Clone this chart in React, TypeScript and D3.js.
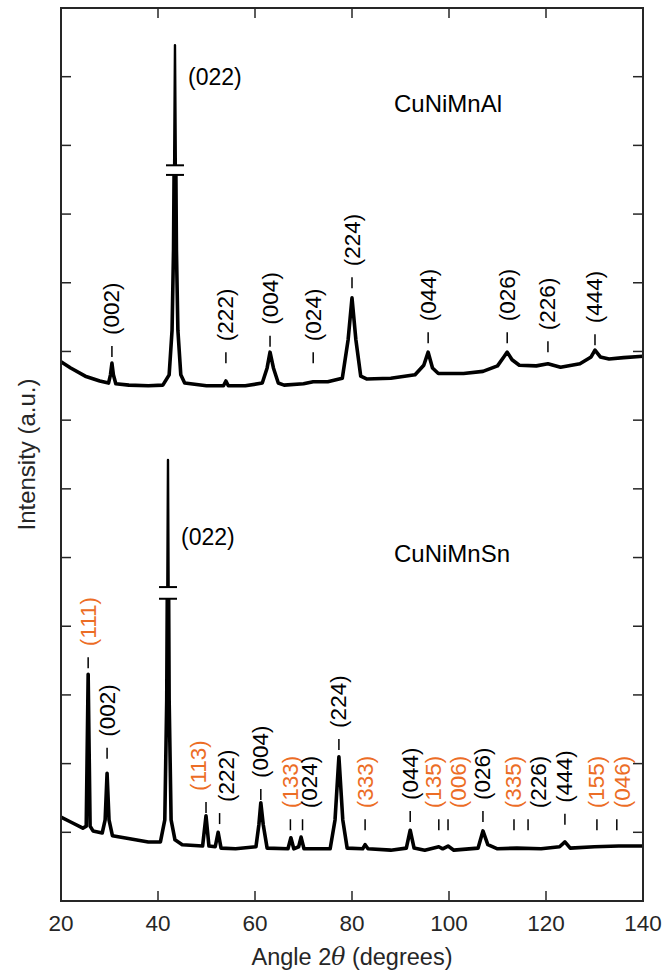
import React, { useEffect, useRef } from 'react';
import * as d3 from 'd3';

// CuNiMnAl pattern (2θ in degrees, intensity in a.u., offset trace)
const alAngle = [20, 22, 25, 28, 29.8, 30.2, 30.5, 30.8, 31.3, 34, 38, 41, 42.3, 42.9, 43.2, 43.5, 43.8, 44.1, 44.7, 45.5, 50, 53.5, 54.0, 54.5, 58, 61.5, 62.5, 63.1, 63.8, 64.8, 66, 70, 72, 75, 78, 79.2, 80.0, 80.8, 81.8, 83, 88, 93, 94.8, 95.7, 96.6, 97.8, 103, 107, 110, 111.3, 112.0, 113.0, 114.5, 118, 120.4, 123, 127, 129.3, 130.1, 131.2, 133, 136, 140];
const alInt = [7.85, 7.76, 7.64, 7.57, 7.54, 7.66, 7.83, 7.66, 7.53, 7.51, 7.5, 7.51, 7.66, 8.31, 9.48, 12.46, 9.48, 8.31, 7.66, 7.54, 7.5, 7.5, 7.57, 7.5, 7.5, 7.54, 7.76, 7.99, 7.76, 7.54, 7.51, 7.53, 7.56, 7.56, 7.61, 8.17, 8.78, 8.17, 7.64, 7.6, 7.61, 7.66, 7.8, 7.99, 7.76, 7.68, 7.68, 7.71, 7.79, 7.92, 7.99, 7.88, 7.8, 7.79, 7.82, 7.77, 7.82, 7.92, 8.02, 7.92, 7.89, 7.91, 7.93];

// CuNiMnSn pattern
const snAngle = [20, 22, 24.5, 25.2, 25.6, 26.0, 26.6, 28.5, 29.1, 29.5, 29.9, 30.6, 33, 38, 40.5, 41.4, 41.8, 42.06, 42.3, 42.7, 43.5, 45, 49.2, 49.9, 50.5, 51.8, 52.4, 53.0, 56, 60.2, 60.8, 61.2, 61.7, 62.5, 66.8, 67.4, 68.0, 69.0, 69.5, 70.1, 75.5, 76.5, 77.3, 78.1, 79, 82.2, 82.7, 83.3, 88, 91.2, 92.0, 92.8, 95, 97.9, 98.7, 99.8, 101, 106, 107, 108, 110, 114, 119, 122.8, 123.9, 125, 130, 135, 140];
const snInt = [1.22, 1.15, 1.06, 1.09, 3.3, 1.09, 1.02, 0.99, 1.18, 1.86, 1.18, 0.95, 0.92, 0.86, 0.86, 1.18, 2.93, 6.42, 2.93, 1.18, 0.89, 0.82, 0.8, 1.24, 0.8, 0.79, 1.0, 0.77, 0.76, 0.79, 1.11, 1.43, 1.11, 0.77, 0.76, 0.92, 0.76, 0.79, 0.93, 0.76, 0.76, 1.18, 2.1, 1.18, 0.77, 0.76, 0.82, 0.76, 0.74, 0.77, 1.03, 0.77, 0.74, 0.79, 0.76, 0.8, 0.74, 0.77, 1.02, 0.82, 0.76, 0.77, 0.76, 0.79, 0.86, 0.77, 0.79, 0.8, 0.8];

// reflection labels
const alHkl = ['(002)', '(222)', '(004)', '(024)', '(224)', '(044)', '(026)', '(226)', '(444)'];
const alHklAngle = [30.5, 54.0, 63.1, 72.0, 80.0, 95.7, 112.0, 120.4, 130.1];
const alHklLevel = [7.92, 7.83, 8.07, 7.83, 8.92, 8.12, 8.12, 7.99, 8.09];

const snHkl = ['(111)', '(002)', '(113)', '(222)', '(004)', '(133)', '(024)', '(224)', '(333)', '(044)', '(135)', '(006)', '(026)', '(335)', '(226)', '(444)', '(155)', '(046)'];
const snHklAngle = [25.6, 29.5, 49.9, 52.7, 61.2, 67.3, 69.8, 77.3, 82.7, 92.0, 97.9, 99.8, 107.0, 113.4, 116.3, 123.9, 130.5, 134.6];
const snHklLevel = [3.39, 2.07, 1.28, 1.12, 1.47, 1.03, 1.03, 2.2, 1.03, 1.15, 1.03, 1.03, 1.15, 1.03, 1.03, 1.11, 1.03, 1.03];
const snHklOrdered = [true, false, true, false, false, true, false, false, true, false, true, true, false, true, false, false, true, true];

// the strongest (022) peak of each trace is cut: [lower, upper] intensity of the gap
const alBreak = [10.57, 10.71];
const snBreak = [4.40, 4.57];
// level of the (022) caption next to the cut peak
const alMainLevel = 11.88;
const snMainLevel = 5.18;

const xTicks = [20, 40, 60, 80, 100, 120, 140];

const XrdChart = ({ chartId }: { chartId: string }) => {
  const ref = useRef<HTMLDivElement>(null);

  useEffect(() => {
    d3.select(ref.current).selectAll('svg').remove();

    const width = 664;
    const height = 971;
    const margin = { top: 8, right: 21, bottom: 70, left: 61 };
    const font = '"Liberation Sans", Arial, Helvetica, sans-serif';
    const orange = '#ec6d25';
    const axisColor = '#262626';

    const svg = d3
      .select(ref.current)
      .append('svg')
      .attr('id', chartId)
      .attr('width', width)
      .attr('height', height)
      .style('position', 'absolute')
      .style('left', 0)
      .style('top', 0)
      .style('background', '#fff');

    const x = d3.scaleLinear().domain([20, 140]).range([margin.left, width - margin.right]);
    const y = d3.scaleLinear().domain([0, 13]).range([height - margin.bottom, margin.top]);

    const line = d3
      .line<[number, number]>()
      .x((d) => x(d[0]))
      .y((d) => y(d[1]));

    const traces = [
      { id: 'al', a: alAngle, v: alInt, brk: alBreak, cap: alMainLevel },
      { id: 'sn', a: snAngle, v: snInt, brk: snBreak, cap: snMainLevel },
    ];

    const defs = svg.append('defs');

    traces.forEach((t) => {
      const pts = t.a.map((a, i) => [a, t.v[i]] as [number, number]);
      const yb = y(t.brk[0]);
      const yt = y(t.brk[1]);

      // thick trace below the cut, thin tip above it
      defs.append('clipPath').attr('id', `${t.id}-lo`).append('rect').attr('x', 0).attr('y', yb).attr('width', width).attr('height', height);
      defs.append('clipPath').attr('id', `${t.id}-hi`).append('rect').attr('x', 0).attr('y', 0).attr('width', width).attr('height', yt);

      svg
        .append('path')
        .attr('d', line(pts))
        .attr('clip-path', `url(#${t.id}-lo)`)
        .attr('fill', 'none')
        .attr('stroke', '#000')
        .attr('stroke-width', 3.6)
        .attr('stroke-linejoin', 'round');
      svg
        .append('path')
        .attr('d', line(pts))
        .attr('clip-path', `url(#${t.id}-hi)`)
        .attr('fill', 'none')
        .attr('stroke', '#000')
        .attr('stroke-width', 2.4)
        .attr('stroke-linejoin', 'round');

      const top = pts.reduce((m, p) => (p[1] > m[1] ? p : m));
      const px = x(top[0]);
      t.brk.forEach((b) => {
        svg
          .append('line')
          .attr('x1', px - 9)
          .attr('x2', px + 9)
          .attr('y1', y(b))
          .attr('y2', y(b))
          .attr('stroke', '#000')
          .attr('stroke-width', 2);
      });
      svg
        .append('text')
        .attr('x', px + 13)
        .attr('y', y(t.cap))
        .attr('font-family', font)
        .attr('font-size', 23)
        .text('(022)');
    });

    // hkl labels: short tick above the peak, rotated text above it
    const nudge: Record<string, number> = { '(113)': -8, '(222)': 7, '(024)': 7, '(135)': -5, '(006)': 10, '(226)': 10, '(046)': 6 };
    const drawLabels = (hkl: string[], ang: number[], lvl: number[], ordered: boolean[] | null, shift: boolean) => {
      hkl.forEach((h, i) => {
        const px = x(ang[i]);
        const py = y(lvl[i]);
        const color = ordered && ordered[i] ? orange : '#000';
        svg
          .append('line')
          .attr('x1', px)
          .attr('x2', px)
          .attr('y1', py)
          .attr('y2', py - 11)
          .attr('stroke', '#000')
          .attr('stroke-width', 1.5);
        const dx = shift ? nudge[h] || 0 : 0;
        svg
          .append('text')
          .attr('transform', `translate(${px + dx},${py - 22}) rotate(-90)`)
          .attr('dominant-baseline', 'central')
          .attr('font-family', font)
          .attr('font-size', 22.5)
          .attr('fill', color)
          .text(h);
      });
    };
    drawLabels(alHkl, alHklAngle, alHklLevel, null, false);
    drawLabels(snHkl, snHklAngle, snHklLevel, snHklOrdered, true);

    // sample names
    svg.append('text').attr('x', 394).attr('y', 112).attr('font-family', font).attr('font-size', 24).text('CuNiMnAl');
    svg.append('text').attr('x', 394).attr('y', 562).attr('font-family', font).attr('font-size', 24).text('CuNiMnSn');

    // frame with inward ticks on all four sides
    const x0 = margin.left;
    const x1 = width - margin.right;
    const y0 = height - margin.bottom;
    const y1 = margin.top;
    svg
      .append('rect')
      .attr('x', x0)
      .attr('y', y1)
      .attr('width', x1 - x0)
      .attr('height', y0 - y1)
      .attr('fill', 'none')
      .attr('stroke', axisColor)
      .attr('stroke-width', 2);

    const tl = 10;
    xTicks.slice(1, -1).forEach((t) => {
      svg.append('line').attr('x1', x(t)).attr('x2', x(t)).attr('y1', y0).attr('y2', y0 - tl).attr('stroke', axisColor).attr('stroke-width', 1.5);
      svg.append('line').attr('x1', x(t)).attr('x2', x(t)).attr('y1', y1).attr('y2', y1 + tl).attr('stroke', axisColor).attr('stroke-width', 1.5);
    });
    y.ticks(13).slice(1, -1).forEach((t) => {
      svg.append('line').attr('x1', x0).attr('x2', x0 + tl).attr('y1', y(t)).attr('y2', y(t)).attr('stroke', axisColor).attr('stroke-width', 1.5);
      svg.append('line').attr('x1', x1).attr('x2', x1 - tl).attr('y1', y(t)).attr('y2', y(t)).attr('stroke', axisColor).attr('stroke-width', 1.5);
    });

    svg
      .selectAll('.xlab')
      .data(xTicks)
      .enter()
      .append('text')
      .attr('x', (d) => x(d))
      .attr('y', y0 + 30)
      .attr('text-anchor', 'middle')
      .attr('font-family', font)
      .attr('font-size', 22.5)
      .attr('fill', axisColor)
      .text((d) => d);

    const xt = svg
      .append('text')
      .attr('x', (x0 + x1) / 2)
      .attr('y', y0 + 64)
      .attr('text-anchor', 'middle')
      .attr('font-family', font)
      .attr('font-size', 23.5)
      .attr('fill', axisColor);
    xt.append('tspan').text('Angle 2');
    xt.append('tspan').attr('font-family', '"DejaVu Serif", "Liberation Serif", serif').attr('font-style', 'italic').text('θ');
    xt.append('tspan').text(' (degrees)');

    svg
      .append('text')
      .attr('transform', `translate(35,${(y0 + y1) / 2}) rotate(-90)`)
      .attr('text-anchor', 'middle')
      .attr('font-family', font)
      .attr('font-size', 24)
      .attr('fill', axisColor)
      .text('Intensity (a.u.)');
  }, [chartId]);

  return <div ref={ref}></div>;
};

export default function App() {
  return <XrdChart chartId="xrd-chart" />;
}
